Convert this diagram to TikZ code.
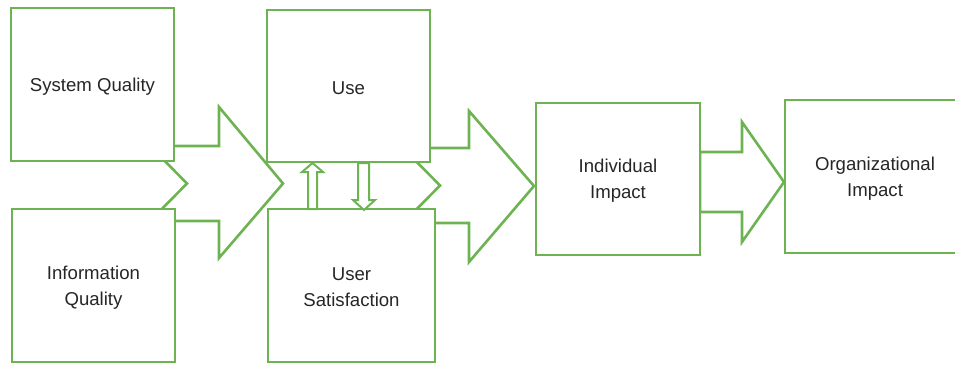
\documentclass[tikz,border=0pt]{standalone}
\usepackage{fontspec}
\setmainfont{Liberation Sans}
\definecolor{boxgreen}{HTML}{6DB352}
\definecolor{txt}{HTML}{262626}
\begin{document}
\begin{tikzpicture}[x=1pt,y=-1pt,
  box/.style={draw=boxgreen,line width=2.6pt,fill=white,inner sep=0pt,
    text=txt,align=center,font=\fontsize{18.6}{26}\selectfont},
  label/.style={text=txt,align=center,font=\fontsize{18.6}{26}\selectfont,yshift=-2pt},
  blockarrow/.style={draw=boxgreen,line width=2.6pt,fill=white,line join=miter},
  thinarrow/.style={draw=boxgreen,line width=2pt,fill=white,line join=miter}]
\useasboundingbox (0,0) rectangle (955,365);
\begin{scope}
\clip (0,0) rectangle (955,365);

% block arrows, drawn beneath the boxes
\draw[blockarrow] (150,146) -- (219,146) -- (219,107) -- (283,183.5) -- (219,258)
  -- (219,221) -- (150,221) -- (187,183.5) -- cycle;
\draw[blockarrow] (403,148) -- (469,148) -- (469,111) -- (534,186) -- (469,262)
  -- (469,223) -- (403,223) -- (440,185.5) -- cycle;
\draw[blockarrow] (700,152) -- (742,152) -- (742,122) -- (784,182) -- (742,242)
  -- (742,212) -- (700,212) -- cycle;

% boxes
\node[box,minimum width=163pt,minimum height=153pt] (sq) at (92.5,84.5) {};
\node[box,minimum width=163pt,minimum height=153pt] (iq) at (93.5,285.5) {};
\node[box,minimum width=163pt,minimum height=152pt] (use) at (348.5,86) {};
\node[box,minimum width=167pt,minimum height=153pt] (us) at (351.5,285.5) {};
\node[box,minimum width=164pt,minimum height=152pt] (ii) at (618,179) {};
\node[box,minimum width=200pt,minimum height=153pt] (oi) at (885,176.5) {};

% box labels
\node[label] (sqt) at (sq) {System Quality};
\node[label] (iqt) at (iq) {Information\\Quality};
\node[label] (uset) at (use) {Use};
\node[label] (ust) at (us) {User\\Satisfaction};
\node[label] (iit) at (ii) {Individual\\Impact};
\node[label] (oit) at (875,176.5) {Organizational\\Impact};

% feedback arrows between Use and User Satisfaction
\draw[thinarrow] (308,209) -- (308,172) -- (302,172) -- (312.5,163) -- (323,172)
  -- (317,172) -- (317,209) -- cycle;
\draw[thinarrow] (358,163) -- (358,200) -- (353,200) -- (364,210) -- (375,200)
  -- (369,200) -- (369,163) -- cycle;
\end{scope}
\end{tikzpicture}
\end{document}
